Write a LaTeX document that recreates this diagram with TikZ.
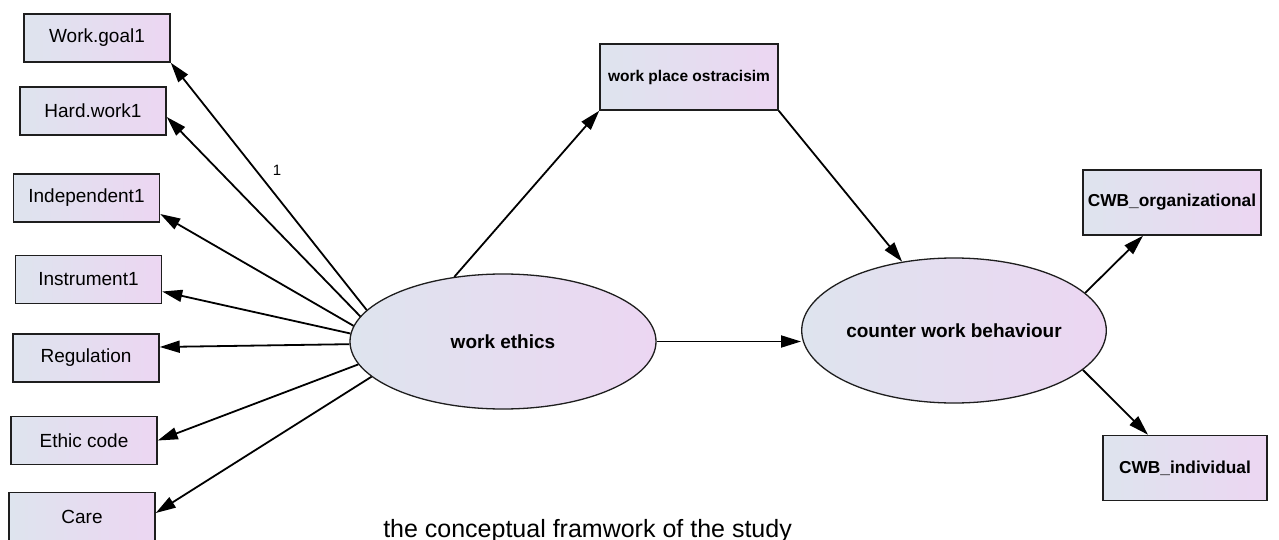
\documentclass[tikz,border=0pt]{standalone}
\usepackage{fontspec}
\setmainfont{Liberation Sans}
\usetikzlibrary{arrows.meta,shapes.geometric,calc}
\definecolor{boxL}{RGB}{222,228,238}
\definecolor{boxR}{RGB}{236,214,242}
\definecolor{edge}{RGB}{30,30,30}
\begin{document}
\begin{tikzpicture}[x=1pt,y=-1pt,
  box/.style={rectangle, draw=edge, line width=1.5pt, left color=boxL, right color=boxR,
    inner sep=0pt, minimum width=146pt, minimum height=48pt,
    font=\fontsize{19}{21}\selectfont},
  bbox/.style={box, font=\bfseries\fontsize{17.3}{20}\selectfont},
  lat/.style={ellipse, draw=edge, line width=1.3pt, left color=boxL, right color=boxR,
    inner sep=0pt, font=\bfseries\fontsize{19}{22}\selectfont},
  arr/.style={-{Triangle[length=20pt,width=12pt]}, line width=1.8pt, draw=black},
  lbl/.style={font=\fontsize{15}{17}\selectfont, inner sep=0pt},
  captext/.style={font=\fontsize{25}{29}\selectfont, inner sep=0pt}
]
\useasboundingbox[fill=white] (0,0) rectangle (1279,540);

% indicator boxes
\node[box] (wg)   at (97,38)    {Work.goal1};
\node[box] (hw)   at (93,111)   {Hard.work1};
\node[box] (ind)  at (86.5,198) {Independent1};
\node[box] (ins)  at (88.5,279.5) {Instrument1};
\node[box] (reg)  at (86,358)   {Regulation};
\node[box] (eth)  at (84,440.5) {Ethic code};
\node[box] (care) at (82,516.5) {Care};

\node[bbox, minimum width=178pt, minimum height=66pt, font=\bfseries\fontsize{15.5}{18}\selectfont] (wpo) at (689,77) {work place ostracisim};
\node[bbox, minimum width=178pt, minimum height=65pt] (org) at (1172,202.5) {CWB\_organizational};
\node[bbox, minimum width=164pt, minimum height=65pt] (cind) at (1185,468) {CWB\_individual};

% latent variables
\node[lat, minimum width=306pt, minimum height=135pt] (we) at (503,341.5) {work ethics};
\node[lat, minimum width=270pt, minimum height=145pt] (cwb) at (954,330.5) {counter work behaviour};

% loadings of work ethics
\draw[arr] (we.167) -- (wg.south east);
\draw[arr] (we.170.6) -- ($(hw.east)+(0,-6pt)$);
\draw[arr] (we.174) -- ($(ind.east)+(0,-16pt)$);
\draw[arr] (we.177) -- ($(ins.east)+(0,-12pt)$);
\draw[arr] (we.181) -- ($(reg.east)+(0,11pt)$);
\draw[arr] (we.189) -- (eth.east);
\draw[arr] (we.195) -- ($(care.east)+(0,3.5pt)$);

\node[lbl] (one) at (277,170) {1};

% structural paths
\draw[arr] (we.127) -- (wpo.south west);
\draw[arr] (wpo.south east) -- (cwb.127);
\draw[arr] (we.east) -- (we.east -| cwb.west);
\draw[arr] (cwb.16) -- ($(org.south)+(-29pt,0)$);
\draw[arr] (cwb.-17) -- ($(cind.north)+(-37pt,0)$);

\node[captext, anchor=base east] (caption) at (792,537) {the conceptual framwork of the study};
\end{tikzpicture}
\end{document}
